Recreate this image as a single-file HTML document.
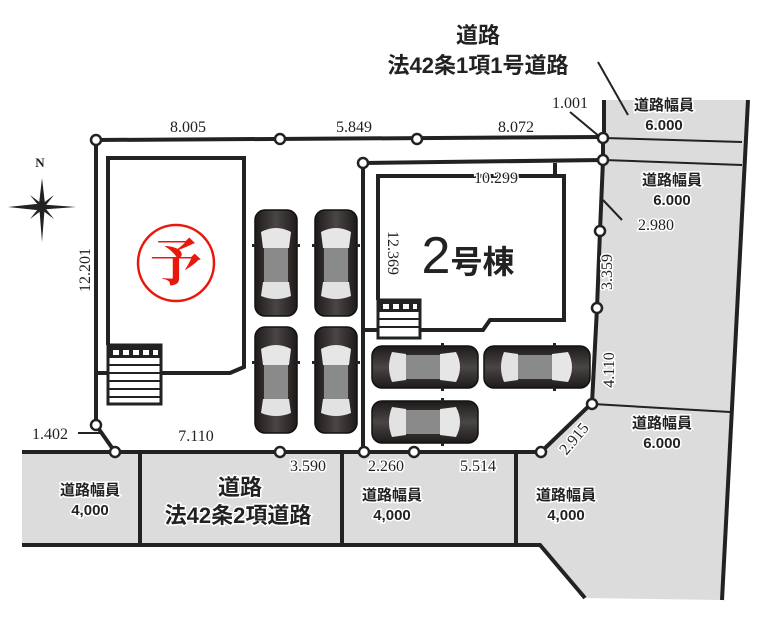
<!DOCTYPE html>
<html><head><meta charset="utf-8"><style>
html,body{margin:0;padding:0;background:#fff}
svg{display:block}
.d{font-family:"Liberation Serif",serif;font-size:16px;fill:#222;stroke:#fff;stroke-width:3;paint-order:stroke}
.r{font-family:"Liberation Sans","Noto Sans CJK JP",sans-serif;font-weight:bold;fill:#222;stroke:#fff;stroke-width:3;paint-order:stroke}
</style></head><body>
<svg width="760" height="625" viewBox="0 0 760 625" xmlns="http://www.w3.org/2000/svg">
<defs>
<linearGradient id="cg" x1="0" x2="1"><stop offset="0" stop-color="#1e1a19"/><stop offset="0.5" stop-color="#4a4645"/><stop offset="1" stop-color="#1e1a19"/></linearGradient>
<g id="car">
<rect x="1" y="0" width="42" height="106" rx="10" fill="url(#cg)" stroke="#111" stroke-width="1.5"/>
<path d="M7 22 Q22 14 37 22 L35 38 L9 38 Z" fill="#e6e6e6"/>
<rect x="10" y="38" width="24" height="34" fill="#8a8a8a"/>
<path d="M9 72 L35 72 L37 86 Q22 92 7 86 Z" fill="#e2e2e2"/>
<rect x="-2" y="34" width="4" height="3" fill="#222"/><rect x="42" y="34" width="4" height="3" fill="#222"/>
</g>
</defs>
<polygon points="604,100 748,100 722,600 585,598 540,545 22,545 22,452 541,452 592,403 603,160 603,137" fill="#dcdcdc"/>
<g stroke="#222" stroke-width="4" fill="none">
<line x1="604" y1="100" x2="604" y2="137"/>
<line x1="748" y1="100" x2="722" y2="600"/>
<polyline points="22,545 540,545 585,598"/>
<line x1="22" y1="452" x2="115" y2="452"/>
<line x1="140" y1="452" x2="140" y2="545"/>
<line x1="342" y1="452" x2="342" y2="545"/>
<line x1="516" y1="452" x2="516" y2="545"/>
<polyline points="96,140 603,137"/>
<polyline points="363,163 603,160"/>
<polyline points="603,137 603,160 600,231 597,308 592,403 541,452 115,452 96,425 96,140"/>
<line x1="363" y1="163" x2="363" y2="452"/>
<polyline points="108,345 108,158 244,158 244,367 230,373 161,373"/>
<line x1="96" y1="373" x2="108" y2="373"/>
<polyline points="378,300 378,176 564,176 564,320 490,320 483,330 420,330"/>
<line x1="363" y1="330" x2="378" y2="330"/>
<line x1="555" y1="163" x2="555" y2="176"/>
</g>
<g stroke="#222" stroke-width="2" fill="none">
<line x1="604" y1="138" x2="742" y2="142"/><line x1="604" y1="160" x2="742" y2="165"/>
<line x1="593" y1="404" x2="730" y2="412"/>
<line x1="598" y1="62" x2="628" y2="115"/>
<line x1="570" y1="112" x2="600" y2="137"/>
<line x1="603" y1="200" x2="622" y2="220"/>
<line x1="78" y1="433" x2="100" y2="433"/>
</g>
<g>
<rect x="108" y="345" width="53" height="59" fill="#fff" stroke="#222" stroke-width="3"/>
<rect x="108" y="345" width="53" height="13" fill="#222"/>
<g fill="#fff"><rect x="113" y="350" width="6" height="5"/><rect x="123" y="350" width="6" height="5"/><rect x="133" y="350" width="6" height="5"/><rect x="143" y="350" width="6" height="5"/><rect x="153" y="350" width="5" height="5"/></g>
<g stroke="#222" stroke-width="2"><line x1="108" y1="365" x2="161" y2="365"/><line x1="108" y1="373" x2="161" y2="373"/><line x1="108" y1="381" x2="161" y2="381"/><line x1="108" y1="389" x2="161" y2="389"/><line x1="108" y1="397" x2="161" y2="397"/></g>
<rect x="378" y="300" width="42" height="38" fill="#fff" stroke="#222" stroke-width="3"/>
<rect x="378" y="300" width="42" height="12" fill="#222"/>
<g fill="#fff"><rect x="383" y="304" width="6" height="5"/><rect x="393" y="304" width="6" height="5"/><rect x="403" y="304" width="6" height="5"/><rect x="413" y="304" width="4" height="5"/></g>
<g stroke="#222" stroke-width="2"><line x1="378" y1="319" x2="420" y2="319"/><line x1="378" y1="327" x2="420" y2="327"/></g>
</g>
<use href="#car" x="254" y="210"/><use href="#car" x="314" y="210"/>
<use href="#car" x="254" y="327"/><use href="#car" x="314" y="327"/>
<use href="#car" transform="translate(478,345) rotate(90)"/>
<use href="#car" transform="translate(590,345) rotate(90)"/>
<use href="#car" transform="translate(478,400) rotate(90)"/>
<g fill="#fff" stroke="#222" stroke-width="2.5">
<circle cx="96" cy="140" r="5"/><circle cx="280" cy="139" r="5"/><circle cx="417" cy="139" r="5"/><circle cx="603" cy="138" r="5"/>
<circle cx="363" cy="163" r="5"/><circle cx="603" cy="160" r="5"/><circle cx="600" cy="231" r="5"/><circle cx="597" cy="308" r="5"/><circle cx="592" cy="404" r="5"/>
<circle cx="541" cy="452" r="5"/><circle cx="414" cy="452" r="5"/><circle cx="364" cy="452" r="5"/><circle cx="280" cy="452" r="5"/><circle cx="115" cy="452" r="5"/><circle cx="96" cy="425" r="5"/>
</g>
<circle cx="176" cy="263" r="38" fill="none" stroke="#e8190c" stroke-width="2.5"/>
<text x="176" y="281" text-anchor="middle" font-family="Noto Serif CJK SC,serif" font-weight="bold" font-size="52" fill="#e8190c">予</text>
<g fill="#222">
<polygon points="42,178 45,204 42,242 39,204"/><polygon points="8,207 36,204 76,207 36,210"/>
<polygon points="30,195 42,204 54,219 42,210"/><polygon points="54,195 42,210 30,219 42,204"/>
</g>
<text x="40" y="167" font-family="Liberation Serif,serif" font-weight="bold" font-size="13" text-anchor="middle" fill="#222">N</text>
<text class="r" x="478" y="43" font-size="22" text-anchor="middle">道路</text>
<text class="r" x="478" y="73" font-size="22" text-anchor="middle">法42条1項1号道路</text>
<text class="r" x="240" y="495" font-size="22" text-anchor="middle">道路</text>
<text class="r" x="238" y="523" font-size="22" text-anchor="middle">法42条2項道路</text>
<g class="r" font-size="15" text-anchor="middle">
<text x="664" y="110">道路幅員</text><text x="664" y="130">6.000</text>
<text x="672" y="185">道路幅員</text><text x="672" y="205">6.000</text>
<text x="662" y="428">道路幅員</text><text x="662" y="448">6.000</text>
<text x="90" y="495">道路幅員</text><text x="90" y="515">4,000</text>
<text x="392" y="500">道路幅員</text><text x="392" y="520">4,000</text>
<text x="566" y="500">道路幅員</text><text x="566" y="520">4,000</text>
</g>
<g class="d" text-anchor="middle">
<text x="188" y="132">8.005</text><text x="354" y="132">5.849</text><text x="516" y="132">8.072</text>
<text x="570" y="108">1.001</text><text x="496" y="183">10.299</text><text x="656" y="230">2.980</text>
<text x="50" y="439">1.402</text><text x="196" y="441">7.110</text><text x="308" y="471">3.590</text>
<text x="386" y="471">2.260</text><text x="478" y="471">5.514</text>
<text transform="translate(90,270) rotate(-90)">12.201</text>
<text transform="translate(388,253) rotate(90)">12.369</text>
<text transform="translate(612,272) rotate(-90)">3.359</text>
<text transform="translate(614,370) rotate(-90)">4.110</text>
<text transform="translate(578,442) rotate(-50)">2.915</text>
</g>
<text x="468" y="273" font-family="Liberation Sans,sans-serif" font-size="52" text-anchor="middle" fill="#222">2<tspan font-family="Noto Sans CJK JP,sans-serif" font-size="32" font-weight="bold">号棟</tspan></text>
</svg>
</body></html>
